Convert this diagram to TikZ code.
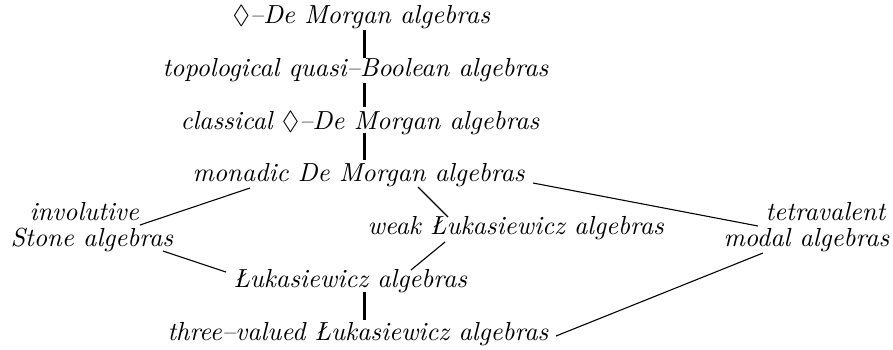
\documentclass[tikz,border=0pt]{standalone}
\usepackage{amssymb}
\begin{document}
\begin{tikzpicture}[x=0.383pt,y=-0.383pt,
  lbl/.style={font=\itshape, inner sep=0pt, anchor=base west},
  thin/.style={line width=0.42pt},
  thick/.style={line width=1.15pt}]
\useasboundingbox (0,0) rectangle (893,349);
\node[lbl] (top) at (232,23) {$\Diamond$--De Morgan algebras};
\node[lbl] (topo) at (162,76) {topological quasi--Boolean algebras};
\node[lbl] (cls) at (180,129) {classical $\Diamond$--De Morgan algebras};
\node[lbl] (mon) at (192,181) {monadic De Morgan algebras};
\node[lbl] (inv) at (29,220) {involutive};
\node[lbl] (stone) at (10,246) {Stone algebras};
\node[lbl] (weak) at (367,234) {weak \L ukasiewicz algebras};
\node[lbl] (tetra) at (765,220) {tetravalent};
\node[lbl] (modal) at (723,246) {modal algebras};
\node[lbl] (luk) at (233,287) {\L ukasiewicz algebras};
\node[lbl] (three) at (167,340) {three--valued \L ukasiewicz algebras};
% verticals
\draw[thick] ([shift={(132,7)}]top.base west) -- ([shift={(202,-18)}]topo.base west);
\draw[thick] ([shift={(202,7)}]topo.base west) -- ([shift={(184,-22)}]cls.base west);
\draw[thick] ([shift={(184,4)}]cls.base west) -- ([shift={(172,-21)}]mon.base west);
\draw[thick] ([shift={(131,5)}]luk.base west) -- ([shift={(197,-20)}]three.base west);
% diagonals
\draw[thin] ([shift={(58,7)}]mon.base west) -- ([shift={(111,5)}]inv.base west);
\draw[thin] ([shift={(153,5)}]stone.base west) -- ([shift={(-7,-15)}]luk.base west);
\draw[thin] ([shift={(226,6)}]mon.base west) -- ([shift={(81,-17)}]weak.base west);
\draw[thin] ([shift={(78,8)}]weak.base west) -- ([shift={(178,-17)}]luk.base west);
\draw[thin] ([shift={(341,2)}]mon.base west) -- ([shift={(-7,6)}]tetra.base west);
\draw[thin] ([shift={(389,-4)}]three.base west) -- ([shift={(40,7)}]modal.base west);
\end{tikzpicture}
\end{document}
